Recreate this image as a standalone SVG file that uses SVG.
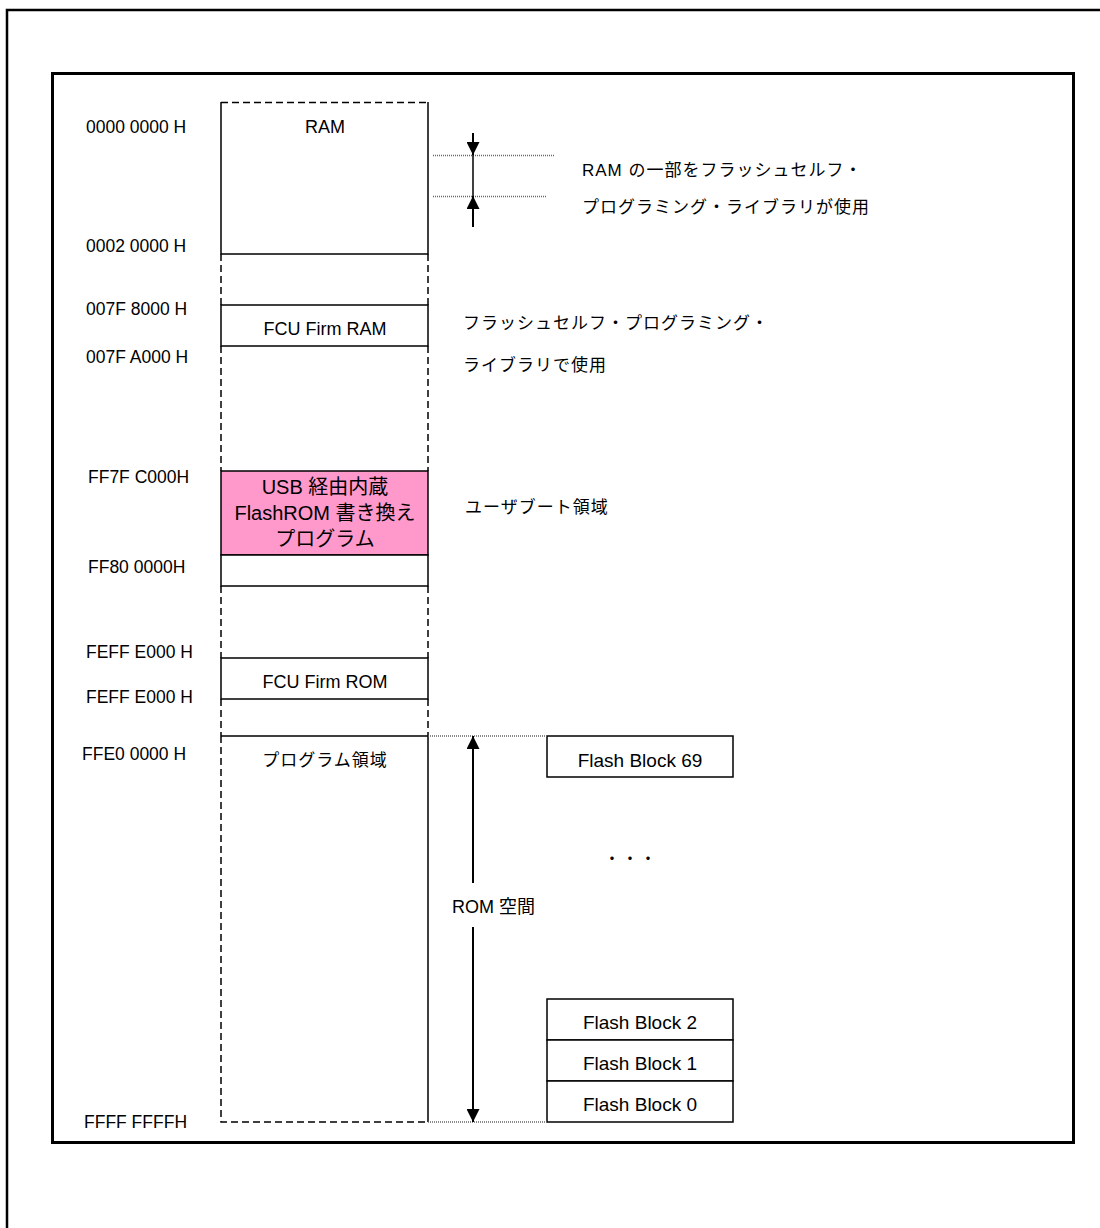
<svg xmlns="http://www.w3.org/2000/svg" width="1100" height="1228" viewBox="0 0 1100 1228">
<defs>
<style>
.lat{font-family:"Liberation Sans",Arial,sans-serif;fill:#000}
.jp{font-family:"Liberation Sans","Noto Sans CJK JP",sans-serif;fill:#000}
.addr{font-size:17.5px}
.box{fill:#fff;stroke:#000;stroke-width:1.5}
.sol{stroke:#000;stroke-width:1.5;fill:none}
.dash{stroke:#000;stroke-width:1.5;stroke-dasharray:7 4;fill:none}
.dot{stroke:#666;stroke-width:1.5;stroke-dasharray:1 1;fill:none}
.arr{stroke:#000;stroke-width:2;fill:none}
</style>
<marker id="ah" viewBox="0 0 10 10" refX="10" refY="5" markerWidth="6.5" markerHeight="6.5" orient="auto" markerUnits="strokeWidth">
<path d="M0,0 L10,5 L0,10 z" fill="#000"/>
</marker>
</defs>
<rect width="1100" height="1228" fill="#fff"/>
<g id="frames">
<path d="M7,1228 V10 H1100" fill="none" stroke="#000" stroke-width="2.5"/>
<rect x="52.5" y="73.5" width="1021" height="1069" fill="none" stroke="#000" stroke-width="3"/>
</g>
<g id="addresses" class="lat addr">
<text x="86" y="133">0000 0000 H</text>
<text x="86" y="252">0002 0000 H</text>
<text x="86" y="315">007F 8000 H</text>
<text x="86" y="363">007F A000 H</text>
<text x="88" y="483">FF7F C000H</text>
<text x="88" y="573">FF80 0000H</text>
<text x="86" y="658">FEFF E000 H</text>
<text x="86" y="703">FEFF E000 H</text>
<text x="82" y="760">FFE0 0000 H</text>
<text x="84" y="1128">FFFF FFFFH</text>
</g>
<g id="column-gaps">
<path class="dash" d="M221,254 V305 M428,254 V305 M221,346 V471 M428,346 V471 M221,586 V658 M428,586 V658 M221,699 V736 M428,699 V736"/>
</g>
<g id="ram">
<path class="dash" d="M221,102.5 H428"/>
<path class="sol" d="M221,102 V254 H428 V102"/>
<text class="lat" x="325" y="133" font-size="18" text-anchor="middle">RAM</text>
</g>
<g id="fcu-firm-ram">
<rect class="box" x="221" y="305" width="207" height="41"/>
<text class="lat" x="325" y="335" font-size="18" text-anchor="middle">FCU Firm RAM</text>
</g>
<g id="usb-program">
<rect x="221" y="471" width="207" height="84" fill="#ff99cc" stroke="#000" stroke-width="1.5"/>
<text class="jp" x="325" y="494" font-size="20" text-anchor="middle">USB 経由内蔵</text>
<text class="jp" x="325" y="520" font-size="20" text-anchor="middle">FlashROM 書き換え</text>
<text class="jp" x="325" y="546" font-size="20" text-anchor="middle">プログラム</text>
</g>
<g id="user-boot-rest">
<rect class="box" x="221" y="555" width="207" height="31"/>
</g>
<g id="fcu-firm-rom">
<rect class="box" x="221" y="658" width="207" height="41"/>
<text class="lat" x="325" y="688" font-size="18" text-anchor="middle">FCU Firm ROM</text>
</g>
<g id="program-area">
<path class="sol" d="M221,736 H428 V1122"/>
<path class="dash" d="M221,736 V1122 H428"/>
<text class="jp" x="325" y="766" font-size="17" letter-spacing="1" text-anchor="middle">プログラム領域</text>
</g>
<g id="flash-blocks" class="lat">
<g id="fb69"><rect class="box" x="547" y="736" width="186" height="41"/><text x="640" y="767" font-size="19" text-anchor="middle">Flash Block 69</text></g>
<g id="fb2"><rect class="box" x="547" y="999" width="186" height="41"/><text x="640" y="1029" font-size="19" text-anchor="middle">Flash Block 2</text></g>
<g id="fb1"><rect class="box" x="547" y="1040" width="186" height="41"/><text x="640" y="1070" font-size="19" text-anchor="middle">Flash Block 1</text></g>
<g id="fb0"><rect class="box" x="547" y="1081" width="186" height="41"/><text x="640" y="1111" font-size="19" text-anchor="middle">Flash Block 0</text></g>
<text id="ellipsis" class="jp" x="604" y="864" font-size="16" letter-spacing="2">・・・</text>
</g>
<g id="annotations" class="jp" font-size="17" letter-spacing="1">
<text x="582" y="176">RAM の一部をフラッシュセルフ・</text>
<text x="582" y="213">プログラミング・ライブラリが使用</text>
<text x="463" y="329">フラッシュセルフ・プログラミング・</text>
<text x="463" y="371">ライブラリで使用</text>
<text x="465" y="513">ユーザブート領域</text>
<text x="452" y="913" letter-spacing="0" font-size="18">ROM 空間</text>
</g>
<g id="connectors">
<path class="dot" d="M433,155.5 H555 M433,196.5 H546 M428,736 H547 M428,1122 H547"/>
<line class="sol" x1="473" y1="155" x2="473" y2="196"/>
<line class="arr" x1="473" y1="133" x2="473" y2="155" marker-end="url(#ah)"/>
<line class="arr" x1="473" y1="227" x2="473" y2="196" marker-end="url(#ah)"/>
<line class="arr" x1="473" y1="883" x2="473" y2="736" marker-end="url(#ah)"/>
<line class="arr" x1="473" y1="927" x2="473" y2="1122" marker-end="url(#ah)"/>
</g>
</svg>
